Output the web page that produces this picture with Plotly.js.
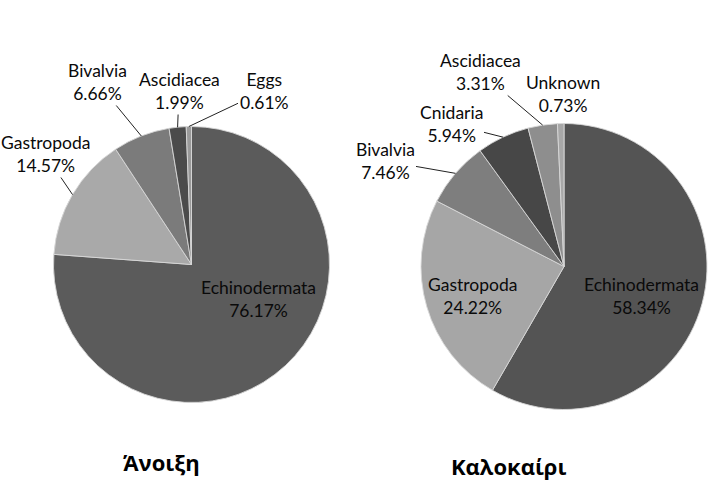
<!DOCTYPE html>
<html>
<head>
<meta charset="utf-8">
<script src="https://cdn.plot.ly/plotly-3.0.1.min.js"></script>
<style>html,body{margin:0;padding:0;background:#fff;}#chart{width:716px;height:486px;}</style>
</head>
<body>
<div id="chart"></div>
<script>
// ---- data ----
const springLabels = ['Echinodermata', 'Gastropoda', 'Bivalvia', 'Ascidiacea', 'Eggs'];
const springValues = [76.17, 14.57, 6.66, 1.99, 0.61];
const summerLabels = ['Echinodermata', 'Gastropoda', 'Bivalvia', 'Cnidaria', 'Ascidiacea', 'Unknown'];
const summerValues = [58.34, 24.22, 7.46, 5.94, 3.31, 0.73];
const seasonTitles = ['Άνοιξη', 'Καλοκαίρι'];

// ---- style / layout ----
const W = 716, H = 486;
const springColors = ['#5b5b5b', '#a9a9a9', '#7b7b7b', '#4b4b4b', '#9a9a9a'];
const summerColors = ['#545454', '#a6a6a6', '#7e7e7e', '#474747', '#8e8e8e', '#a8a8a8'];
const pieGeom = [{cx: 191.5, cy: 264.5, r: 138}, {cx: 564, cy: 266.5, r: 143}];
const springLabelPos = [[258, 299], [45, 154], [97, 82], [179, 91], [264, 91]];
const springLeader = [false, true, true, true, true];
const summerLabelPos = [[641, 296], [472, 296], [385, 161], [451, 124], [480, 72], [563, 94]];
const summerLeader = [false, false, true, true, true, false];
const titlePos = [[161, 462], [508, 466]];
const labelFont = {family: 'Lato, "Open Sans", sans-serif', size: 17.5, color: '#0a0a0a'};

function domainOf(g) {
  return {
    x: [(g.cx - g.r) / W, (g.cx + g.r) / W],
    y: [(H - g.cy - g.r) / H, (H - g.cy + g.r) / H]
  };
}

function pieTrace(labels, values, colors, g) {
  return {
    type: 'pie', labels: labels, values: values, sort: false,
    direction: 'clockwise', rotation: 0, textinfo: 'none', hoverinfo: 'label+percent',
    marker: {colors: colors, line: {color: 'rgba(215,215,215,0.9)', width: 1}},
    domain: domainOf(g)
  };
}

function labelAnnotations(labels, values, g, pos, leader) {
  const total = values.reduce((a, b) => a + b, 0);
  let cum = 0;
  const out = [];
  labels.forEach((lab, i) => {
    const mid = (cum + values[i] / 2) / total;
    cum += values[i];
    const th = mid * 2 * Math.PI;
    const ax0 = g.cx + g.r * Math.sin(th);
    const ay0 = g.cy - g.r * Math.cos(th);
    const text = lab + '<br>' + values[i].toFixed(2) + '%';
    if (leader[i]) {
      out.push({
        xref: 'paper', yref: 'paper', x: ax0 / W, y: 1 - ay0 / H,
        ax: pos[i][0] - ax0, ay: pos[i][1] - ay0,
        text: text, showarrow: true, arrowhead: 0, arrowwidth: 1, arrowcolor: '#222',
        standoff: 0, startstandoff: 0, font: labelFont, align: 'center'
      });
    } else {
      out.push({
        xref: 'paper', yref: 'paper', x: pos[i][0] / W, y: 1 - pos[i][1] / H,
        xanchor: 'center', yanchor: 'middle', text: text, showarrow: false,
        font: labelFont, align: 'center'
      });
    }
  });
  return out;
}

const annotations = []
  .concat(labelAnnotations(springLabels, springValues, pieGeom[0], springLabelPos, springLeader))
  .concat(labelAnnotations(summerLabels, summerValues, pieGeom[1], summerLabelPos, summerLeader));

seasonTitles.forEach((t, i) => {
  annotations.push({
    xref: 'paper', yref: 'paper', x: titlePos[i][0] / W, y: 1 - titlePos[i][1] / H,
    xanchor: 'center', yanchor: 'middle', text: '<b>' + t + '</b>', showarrow: false,
    font: {family: '"Open Sans", "Noto Sans", sans-serif', size: 22, color: '#000'}
  });
});

const data = [
  pieTrace(springLabels, springValues, springColors, pieGeom[0]),
  pieTrace(summerLabels, summerValues, summerColors, pieGeom[1])
];

const layout = {
  width: W, height: H, margin: {l: 0, r: 0, t: 0, b: 0},
  showlegend: false, paper_bgcolor: '#fff', plot_bgcolor: '#fff',
  annotations: annotations
};

Plotly.newPlot('chart', data, layout, {displayModeBar: false, staticPlot: true});
</script>
</body>
</html>
